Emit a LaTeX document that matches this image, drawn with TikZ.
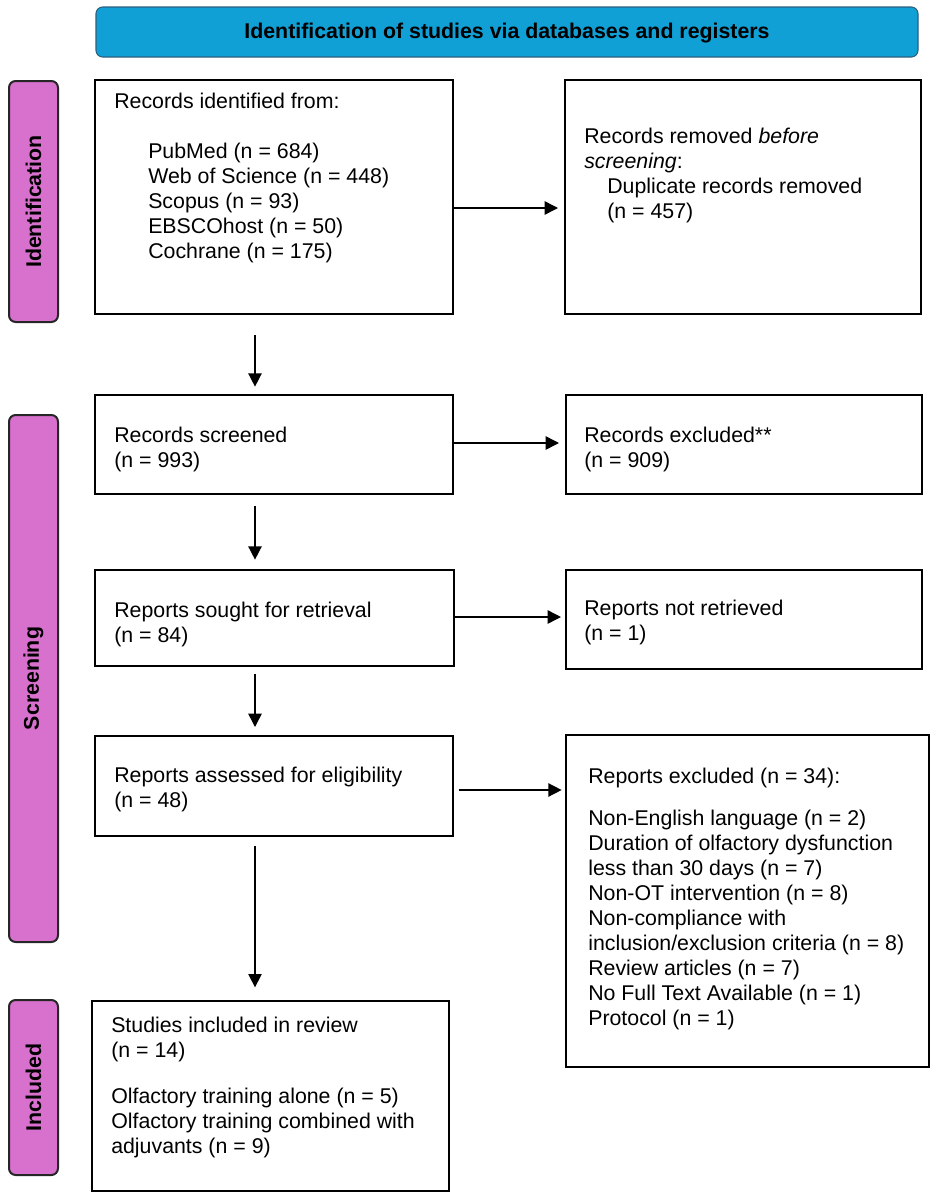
\documentclass[tikz,border=0pt]{standalone}
\usepackage{fontspec}
\setmainfont{Liberation Sans}
\usetikzlibrary{fit,arrows.meta,calc}
\definecolor{hdrblue}{RGB}{16,160,214}
\definecolor{hdredge}{RGB}{45,95,125}
\definecolor{phasepink}{RGB}{216,112,206}
\newlength\px
\setlength\px{0.75pt}
\begin{document}
\begin{tikzpicture}[x=0.75pt,y=-0.75pt,
  box/.style={draw=black, line width=1.5pt, inner sep=0pt},
  txt/.style={anchor=north west, inner sep=0pt, align=left, font=\fontsize{16}{18.75}\selectfont},
  phasebox/.style={draw=black!85, line width=1.5pt, fill=phasepink, rounded corners=5pt, inner sep=0pt},
  phasetxt/.style={font=\bfseries\fontsize{16}{19}\selectfont, rotate=90, inner sep=0pt},
  arr/.style={line width=1.1pt, -{Triangle[length=10pt,width=10pt]}},
]
\useasboundingbox (0,0) rectangle (935,1199);

% header
\node[draw=hdredge, line width=0.8pt, fill=hdrblue, rounded corners=5pt, inner sep=0pt, fit={(96,7)(918,57)}] (hdr) {};
\node[font=\bfseries\fontsize{16}{19}\selectfont, inner sep=0pt] (hdrtxt) at (507,33) {Identification of studies via databases and registers};

% phase labels
\node[phasebox, fit={(9,81)(58,322)}] (p1) {};
\node[phasetxt] (p1t) at (p1.center) {Identification};
\node[phasebox, fit={(9,415)(58,942)}] (p2) {};
\node[phasetxt] (p2t) at (p2.center) {Screening};
\node[phasebox, fit={(9,1000)(58,1175)}] (p3) {};
\node[phasetxt] (p3t) at (p3.center) {Included};

% boxes
\node[box, fit={(95,80)(453,314)}] (b1) {};
\node[box, fit={(565,80)(921,314)}] (b2) {};
\node[box, fit={(95,395)(453,494)}] (b3) {};
\node[box, fit={(566,395)(922,494)}] (b4) {};
\node[box, fit={(95,570)(454,666)}] (b5) {};
\node[box, fit={(566,570)(922,669)}] (b6) {};
\node[box, fit={(95,736)(453,836)}] (b7) {};
\node[box, fit={(566,735)(929,1067)}] (b8) {};
\node[box, fit={(92,1001)(449,1191)}] (b9) {};

% texts
\node[txt] (t1) at (114,92.5) {Records identified from:\\[25\px]
\hspace*{34\px}PubMed (n = 684)\\
\hspace*{34\px}Web of Science (n = 448)\\
\hspace*{34\px}Scopus (n = 93)\\
\hspace*{34\px}EBSCOhost (n = 50)\\
\hspace*{34\px}Cochrane (n = 175)};
\node[txt] (t2) at (584,127.5) {Records removed \textit{before}\\
\textit{screening}:\\
\hspace*{23\px}Duplicate records removed\\
\hspace*{23\px}(n = 457)};
\node[txt] (t3) at (114,426.5) {Records screened\\(n = 993)};
\node[txt] (t4) at (584,426.5) {Records excluded**\\(n = 909)};
\node[txt] (t5) at (114,601.5) {Reports sought for retrieval\\(n = 84)};
\node[txt] (t6) at (584,599.5) {Reports not retrieved\\(n = 1)};
\node[txt] (t7) at (114,766.5) {Reports assessed for eligibility\\(n = 48)};
\node[txt] (t8) at (588,767.5) {Reports excluded (n = 34):\\[17\px]
Non-English language (n = 2)\\
Duration of olfactory dysfunction\\
less than 30 days (n = 7)\\
Non-OT intervention (n = 8)\\
Non-compliance with\\
inclusion/exclusion criteria (n = 8)\\
Review articles (n = 7)\\
No Full Text Available (n = 1)\\
Protocol (n = 1)};
\node[txt] (t9) at (111,1016.5) {Studies included in review\\(n = 14)\\[21\px]
Olfactory training alone (n = 5)\\
Olfactory training combined with\\
adjuvants (n = 9)};

% arrow guide coordinates
\coordinate (vx) at (255,0);
\coordinate (h1) at (0,208);
\coordinate (h2) at (0,443);
\coordinate (h3) at (0,617);
\coordinate (h4) at (0,790);

% vertical arrows
\draw[arr, shorten <=15pt, shorten >=5.5pt] (b1.south -| vx) -- (b3.north -| vx);
\draw[arr, shorten <=8pt, shorten >=7pt] (b3.south -| vx) -- (b5.north -| vx);
\draw[arr, shorten <=5pt, shorten >=6pt] (b5.south -| vx) -- (b7.north -| vx);
\draw[arr, shorten <=7pt, shorten >=9.5pt] (b7.south -| vx) -- (b9.north -| vx);

% horizontal arrows
\draw[arr, shorten >=4.5pt] (b1.east |- h1) -- (b2.west |- h1);
\draw[arr, shorten >=4.5pt] (b3.east |- h2) -- (b4.west |- h2);
\draw[arr, shorten >=3pt] (b5.east |- h3) -- (b6.west |- h3);
\draw[arr, shorten <=3.5pt, shorten >=2.5pt] (b7.east |- h4) -- (b8.west |- h4);
\end{tikzpicture}
\end{document}
